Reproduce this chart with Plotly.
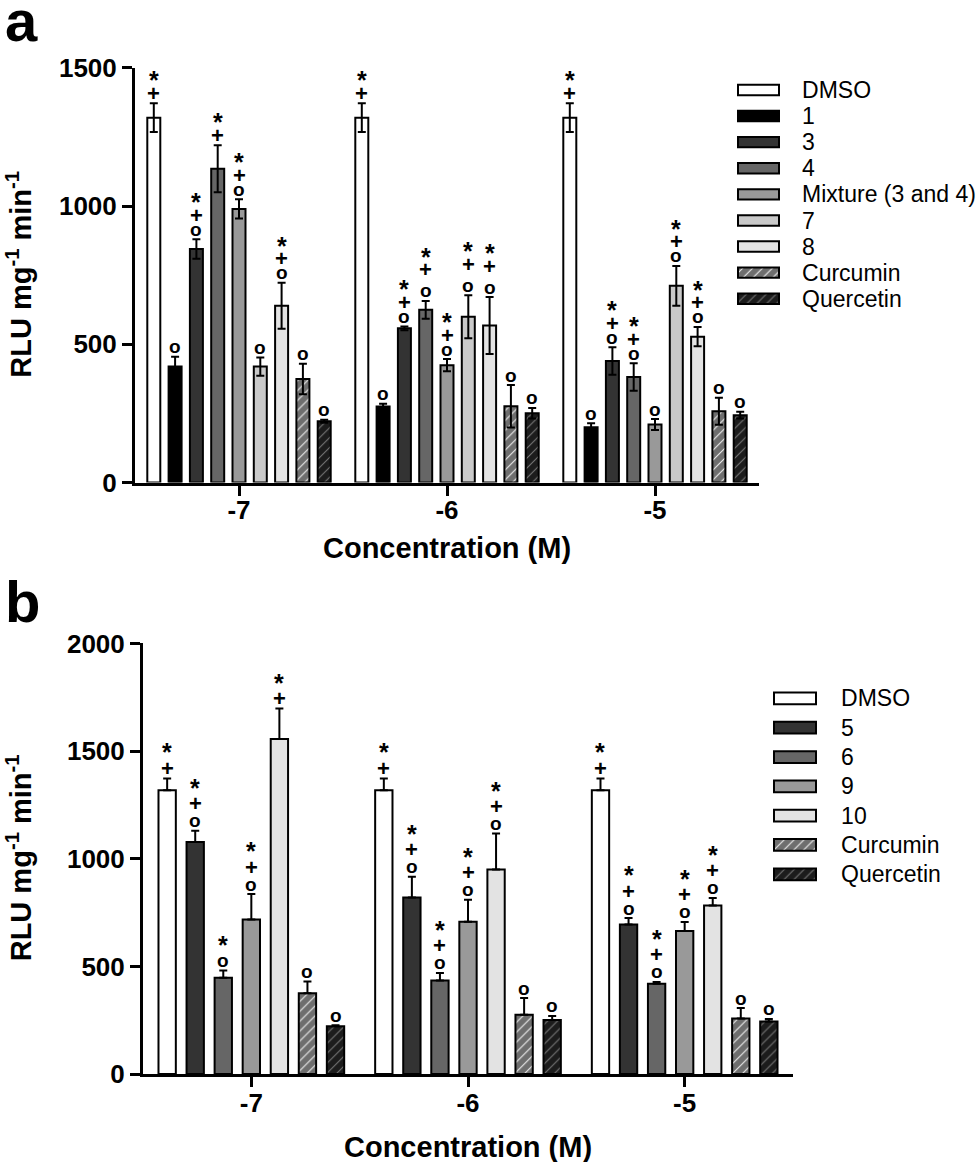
import plotly.graph_objects as go

W, H = 977, 1162
FONT = "Arial, Liberation Sans, sans-serif"

conc = ["-7", "-6", "-5"]

# ---- panel a data (mean, SEM, significance marks) ----
names_a = ["DMSO", "1", "3", "4", "Mixture (3 and 4)", "7", "8", "Curcumin", "Quercetin"]
mean_a = [
    [1320, 1320, 1320],
    [420, 275, 200],
    [845, 558, 440],
    [1135, 625, 382],
    [990, 425, 210],
    [420, 600, 712],
    [640, 568, 528],
    [375, 276, 258],
    [222, 251, 244],
]
sem_a = [
    [52, 52, 52],
    [35, 10, 15],
    [35, 7, 50],
    [85, 32, 50],
    [35, 22, 20],
    [33, 78, 72],
    [83, 103, 35],
    [55, 77, 49],
    [5, 19, 12],
]
sig_a = [
    ["*+", "*+", "*+"],
    ["o", "o", "o"],
    ["*+o", "*+o", "*+o"],
    ["*+", "*+ o", "*+o"],
    ["*+o", "*+o", "o"],
    ["o", "*+ o", "*+o"],
    ["*+o", "*+ o", "*+o"],
    ["o", "o", "o"],
    ["o", "o", "o"],
]
colors_a = ["#ffffff", "#000000", "#333333", "#666666", "#999999", "#c9c9c9", "#e3e3e3", "#6e6e6e", "#1c1c1c"]

# ---- panel b data ----
names_b = ["DMSO", "5", "6", "9", "10", "Curcumin", "Quercetin"]
mean_b = [
    [1318, 1318, 1318],
    [1078, 820, 695],
    [448, 435, 420],
    [718, 708, 665],
    [1556, 950, 783],
    [375, 276, 258],
    [222, 251, 244],
]
sem_b = [
    [55, 55, 55],
    [52, 97, 30],
    [33, 35, 8],
    [118, 102, 42],
    [142, 167, 35],
    [55, 77, 49],
    [5, 19, 12],
]
sig_b = [
    ["*+", "*+", "*+"],
    ["*+o", "*+o", "*+o"],
    ["*o", "*+o", "*+o"],
    ["*+o", "*+o", "*+o"],
    ["*+", "*+o", "*+o"],
    ["o", "o", "o"],
    ["o", "o", "o"],
]
colors_b = ["#ffffff", "#333333", "#666666", "#999999", "#e3e3e3", "#6e6e6e", "#1c1c1c"]

# hatched series: name -> stripe colour
hatch = {"Curcumin": "#f2f2f2", "Quercetin": "#777777"}


def fx(p):
    return p / W


def fy(p):
    # empirical correction for how the page ends up in the screenshot
    q = (p - 14.0) / 0.975
    return 1 - q / H


def make_marker(name, color):
    marker = dict(color=color, line=dict(color="black", width=2))
    if name in hatch:
        marker["pattern"] = dict(shape="/", bgcolor=color, fgcolor=hatch[name],
                                 size=7, solidity=0.15, fillmode="replace")
    return marker


fig = go.Figure()


def add_panel(names, means, sems, sigs, colors, xa, ya, step, width, symmetric, pitch):
    n = len(names)
    for i, name in enumerate(names):
        xs = [g + (i - (n - 1) / 2) * step for g in range(len(conc))]
        err = dict(type="data", array=sems[i], thickness=2, width=4, color="black")
        if not symmetric:
            err["symmetric"] = False
            err["arrayminus"] = [0] * len(conc)
        fig.add_trace(go.Bar(x=xs, y=means[i], width=width, marker=make_marker(name, colors[i]),
                             error_y=err, name=name, showlegend=False, xaxis=xa, yaxis=ya))
        # significance symbols stacked above the error bar
        for g in range(len(conc)):
            top = means[i][g] + sems[i][g]
            shift = 10
            for ch in reversed(sigs[i][g]):
                if ch == " ":
                    shift += 7
                    continue
                if ch == "*":
                    adj, size = -1, 25
                elif ch == "+":
                    adj, size = 0, 22
                else:
                    adj, size = 0, 19
                fig.add_annotation(x=xs[g], y=top, xref=xa, yref=ya, text=ch, showarrow=False,
                                   yanchor="middle", yshift=shift + adj,
                                   font=dict(family=FONT, size=size, color="black", weight="bold"))
                shift += pitch


add_panel(names_a, mean_a, sem_a, sig_a, colors_a, "x", "y", 0.1024, 0.0625, True, 14)
add_panel(names_b, mean_b, sem_b, sig_b, colors_b, "x2", "y2", 0.1295, 0.08, False, 17)

# legend swatches as small horizontal bars, one per series
for names, colors, xa, ya in [(names_a, colors_a, "x3", "y3"), (names_b, colors_b, "x4", "y4")]:
    for name, color in zip(names, colors):
        fig.add_trace(go.Bar(x=[1], y=[name], orientation="h", width=0.4, xaxis=xa, yaxis=ya,
                             marker=make_marker(name, color), showlegend=False, hoverinfo="skip"))

axis_style = dict(showline=True, linecolor="black", linewidth=3, ticks="outside", ticklen=10,
                  tickwidth=3, tickcolor="black", showgrid=False, zeroline=False,
                  tickfont=dict(family=FONT, size=26, color="black", weight="bold"))


def legend_x(left, right):
    # bar 0..1 drawn inside a padded range
    pad = 0.05
    span = right - left
    return [fx(left - pad * span), fx(right + pad * span)], [-pad, 1 + pad]


lx_a, lr_a = legend_x(738, 779)
lx_b, lr_b = legend_x(774, 816)

legend_axis = dict(type="category", categoryorder="array", autorange="reversed", side="right",
                   showline=False, showgrid=False, zeroline=False, ticks="",
                   tickfont=dict(family=FONT, size=23, color="black"))

fig.update_layout(
    width=W, height=H, margin=dict(l=0, r=0, t=0, b=0),
    paper_bgcolor="white", plot_bgcolor="white", barmode="overlay",
    font=dict(family=FONT, color="black"),
    xaxis=dict(domain=[fx(135), fx(759)], range=[-0.5, 2.5], tickvals=[0, 1, 2], ticktext=conc,
               anchor="y", ticklabelstandoff=-8, **axis_style),
    yaxis=dict(domain=[fy(482), fy(67)], range=[0, 1500], tickvals=[0, 500, 1000, 1500],
               anchor="x", **axis_style),
    xaxis2=dict(domain=[fx(143), fx(793)], range=[-0.5, 2.5], tickvals=[0, 1, 2], ticktext=conc,
                anchor="y2", ticklabelstandoff=-6, **axis_style),
    yaxis2=dict(domain=[fy(1074), fy(643)], range=[0, 2000], tickvals=[0, 500, 1000, 1500, 2000],
                anchor="x2", **axis_style),
    xaxis3=dict(domain=lx_a, range=lr_a, visible=False, anchor="y3"),
    yaxis3=dict(domain=[fy(298 + 13.05), fy(89 - 13.05)], categoryarray=names_a,
                tickmode="array", tickvals=names_a, ticktext=names_a,
                anchor="x3", ticklabelstandoff=20, **legend_axis),
    xaxis4=dict(domain=lx_b, range=lr_b, visible=False, anchor="y4"),
    yaxis4=dict(domain=[fy(874 + 14.67), fy(698 - 14.67)], categoryarray=names_b,
                tickmode="array", tickvals=names_b, ticktext=names_b,
                anchor="x4", ticklabelstandoff=22, **legend_axis),
)

title_font = dict(family=FONT, size=29, color="black", weight="bold")
ytitle = "RLU mg<sup>-1</sup> min<sup>-1</sup>"
fig.add_annotation(x=fx(19), y=fy(274), xref="paper", yref="paper", text=ytitle, textangle=-90,
                   showarrow=False, xanchor="center", yanchor="middle", font=title_font)
fig.add_annotation(x=fx(19), y=fy(858), xref="paper", yref="paper", text=ytitle, textangle=-90,
                   showarrow=False, xanchor="center", yanchor="middle", font=title_font)
fig.add_annotation(x=fx(447), y=fy(547), xref="paper", yref="paper", text="Concentration (M)",
                   showarrow=False, xanchor="center", yanchor="middle", font=title_font)
fig.add_annotation(x=fx(468), y=fy(1147), xref="paper", yref="paper", text="Concentration (M)",
                   showarrow=False, xanchor="center", yanchor="middle", font=title_font)

panel_font = dict(family=FONT, size=58, color="black", weight="bold")
fig.add_annotation(x=fx(3), y=fy(20), xref="paper", yref="paper", text="a", showarrow=False,
                   xanchor="left", yanchor="middle", font=panel_font)
fig.add_annotation(x=fx(3), y=fy(601), xref="paper", yref="paper", text="b", showarrow=False,
                   xanchor="left", yanchor="middle", font=panel_font)

# drop the default page margin so the figure sits at the window's top-left corner
fig.write_html("out.html", config={"displayModeBar": False},
               post_script="document.body.style.margin='0px';")
